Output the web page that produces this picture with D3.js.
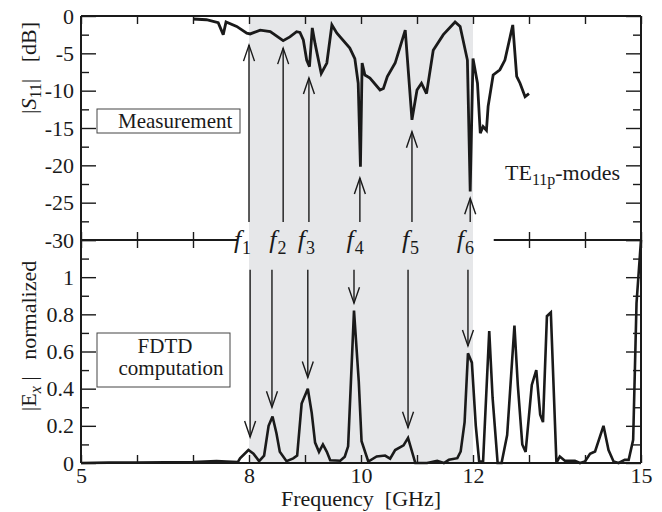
<!DOCTYPE html>
<html><head><meta charset="utf-8">
<script src="https://cdn.jsdelivr.net/npm/d3@7"></script>
</head><body style="margin:0;background:#fff">
<svg id="c" width="662" height="512" font-family="Liberation Serif"></svg>
<script>
// ---------- data ----------
const measFreq=[7.0,7.24,7.45,7.54,7.59,7.78,7.96,8.02,8.2,8.38,8.61,8.73,8.85,8.91,8.97,9.03,9.08,9.13,9.18,9.29,9.39,9.48,9.57,9.8,9.89,9.95,9.99,10.02,10.07,10.16,10.34,10.4,10.47,10.61,10.7,10.79,10.91,11.0,11.08,11.17,11.29,11.47,11.68,11.77,11.9,11.95,12.0,12.08,12.13,12.18,12.24,12.27,12.36,12.48,12.57,12.71,12.78,12.84,12.93,13.0];
const measDb=[-0.4,-0.5,-0.9,-2.5,-0.8,-1.4,-2.3,-2.4,-1.9,-2.1,-3.3,-2.8,-2.1,-2.2,-3.2,-5.9,-6.8,-1.6,-3.7,-7.7,-6.3,-1.2,-2.3,-4.3,-5.7,-9.0,-20.2,-6.3,-7.9,-8.3,-9.9,-9.7,-8.1,-6.3,-4.1,-1.9,-13.9,-9.9,-9.0,-10.4,-4.6,-2.5,-0.8,-1.4,-5.9,-23.5,-5.7,-9.0,-15.7,-14.8,-15.3,-12.1,-7.9,-7.2,-5.9,-1.2,-8.1,-9.0,-10.8,-10.4];

const fdtdFreq=[5.0,5.5,6.0,6.5,7.0,7.42,7.6,7.8,7.84,7.99,8.08,8.18,8.27,8.35,8.42,8.49,8.55,8.67,8.79,8.86,8.94,9.05,9.12,9.18,9.25,9.32,9.39,9.45,9.63,9.71,9.77,9.875,9.96,10.01,10.13,10.28,10.43,10.52,10.61,10.76,10.84,10.97,11.18,11.36,11.48,11.57,11.72,11.78,11.85,11.91,11.98,12.05,12.11,12.18,12.29,12.35,12.44,12.51,12.61,12.74,12.8,12.88,12.94,13.05,13.13,13.2,13.25,13.32,13.39,13.49,13.55,13.64,13.82,13.91,14.0,14.09,14.18,14.33,14.42,14.51,14.6,14.71,14.78,14.86,14.92,15.0];
const fdtdVal=[0.0,0.002,0.003,0.004,0.005,0.01,0.008,0.005,0.025,0.07,0.05,0.01,0.04,0.2,0.25,0.16,0.06,0.01,0.025,0.04,0.32,0.4,0.27,0.11,0.06,0.1,0.06,0.015,0.012,0.034,0.09,0.82,0.44,0.117,0.008,0.035,0.04,0.023,0.07,0.095,0.135,0.0,0.0,0.012,0.0,0.017,0.026,0.062,0.22,0.59,0.54,0.2,0.008,0.008,0.71,0.35,0.0,0.0,0.15,0.74,0.42,0.1,0.06,0.42,0.5,0.26,0.22,0.79,0.81,0.0,0.035,0.012,0.012,0.0,0.008,0.05,0.062,0.2,0.07,0.008,0.0,0.017,0.017,0.125,0.86,1.2];

const modeNames=["1","2","3","4","5","6"];
const arrowTopFreq=[8.0,8.61,9.07,9.98,10.91,11.95];
const arrowTopTip=[-3.9,-4.3,-8.3,-21.7,-15.5,-24.4];
const arrowTopStart=-27.6;
const arrowBotFreq=[8.02,8.41,9.05,9.875,10.84,11.91];
const arrowBotTip=[0.14,0.30,0.46,0.86,0.19,0.63];
const arrowBotStart=1.04;
const modeLabelFreq=[7.73,8.36,8.87,9.74,10.73,11.71];

const bandFreq=[8,12];
const labelBandFreq=[7.79,12.37];
const xTickValues=[5,6,7,8,9,10,11,12,13,14,15];
const xTickLabels=[5,8,10,12,15];
const s11Major=[0,-5,-10,-15,-20,-25,-30];
const s11Minor=[-2.5,-7.5,-12.5,-17.5,-22.5,-27.5];
const exMajor=[0,0.2,0.4,0.6,0.8,1.0,1.2];
const exMinor=[0.1,0.3,0.5,0.7,0.9,1.1];

// ---------- layout ----------
const SERIF="Liberation Serif";
const L=81,R=641,T=16,M=240,B=463;
const svg=d3.select("#c");
const x=d3.scaleLinear([5,15],[L,R]);
const yT=d3.scaleLinear([-30,0],[M,T]);
const yB=d3.scaleLinear([0,1.2],[B,M]);
const ink="#1a1a1a";

// shading
svg.append("rect").attr("x",x(bandFreq[0])).attr("y",T).attr("width",x(bandFreq[1])-x(bandFreq[0])).attr("height",B-T).attr("fill","#e6e7e9");

// curves
const lineT=d3.line().x(d=>x(d[0])).y(d=>yT(d[1]));
const lineB=d3.line().x(d=>x(d[0])).y(d=>yB(d[1]));
svg.append("path").attr("d",lineT(d3.zip(measFreq,measDb))).attr("fill","none").attr("stroke",ink).attr("stroke-width",2.8).attr("stroke-linejoin","miter").attr("stroke-miterlimit",3);
svg.append("path").attr("d",lineB(d3.zip(fdtdFreq,fdtdVal))).attr("fill","none").attr("stroke",ink).attr("stroke-width",2.6).attr("stroke-linejoin","miter").attr("stroke-miterlimit",3);

// axes helper
function axisG(axis,tx,ty){
  const g=svg.append("g").attr("transform",`translate(${tx},${ty})`).call(axis);
  g.attr("font-family",SERIF).attr("font-size",22);
  g.select(".domain").remove();
  g.selectAll(".tick line").attr("stroke",ink).attr("stroke-width",1.4);
  g.selectAll("text").attr("font-family",SERIF).attr("font-size",22).attr("fill",ink);
  return g;
}
const fmtS=d=>String(d);
// left top
axisG(d3.axisLeft(yT).tickValues(s11Major).tickSize(-15).tickPadding(7).tickFormat(fmtS),L,0);
axisG(d3.axisLeft(yT).tickValues(s11Minor).tickSize(-8).tickFormat(""),L,0);
// left bottom (no label at 1.2)
axisG(d3.axisLeft(yB).tickValues(exMajor).tickSize(-15).tickPadding(7).tickFormat(d=>d>=1.15?"":(d===0?"0":(d===1?"1":d3.format(".1f")(d)))),L,0);
axisG(d3.axisLeft(yB).tickValues(exMinor).tickSize(-8).tickFormat(""),L,0);
// right
axisG(d3.axisRight(yT).tickValues(s11Major).tickSize(-15).tickFormat(""),R,0);
axisG(d3.axisRight(yT).tickValues(s11Minor).tickSize(-8).tickFormat(""),R,0);
axisG(d3.axisRight(yB).tickValues(exMajor).tickSize(-15).tickFormat(""),R,0);
axisG(d3.axisRight(yB).tickValues(exMinor).tickSize(-8).tickFormat(""),R,0);
// top edge
axisG(d3.axisTop(x).tickValues(xTickValues).tickSize(-8).tickFormat(""),0,T);
// middle
const midTicks=xTickValues.filter(v=>v<labelBandFreq[0]||v>labelBandFreq[1]);
axisG(d3.axisBottom(x).tickValues(midTicks).tickSize(-8).tickFormat(""),0,M);
axisG(d3.axisTop(x).tickValues(midTicks).tickSize(-8).tickFormat(""),0,M);
// bottom
axisG(d3.axisBottom(x).tickValues(xTickValues).tickSize(-8).tickPadding(4).tickFormat(d=>xTickLabels.includes(d)?String(d):""),0,B);

// frame
const fr=svg.append("g").attr("stroke",ink).attr("stroke-width",2).attr("fill","none");
fr.append("line").attr("x1",L).attr("x2",R).attr("y1",T).attr("y2",T);
fr.append("line").attr("x1",L).attr("x2",R).attr("y1",B).attr("y2",B);
fr.append("line").attr("x1",L).attr("x2",L).attr("y1",T).attr("y2",B);
fr.append("line").attr("x1",R).attr("x2",R).attr("y1",T).attr("y2",B);
fr.append("line").attr("x1",L).attr("x2",x(labelBandFreq[0])).attr("y1",M).attr("y2",M);
fr.append("line").attr("x1",x(labelBandFreq[1])).attr("x2",R).attr("y1",M).attr("y2",M);

// arrows
const ag=svg.append("g").attr("stroke",ink).attr("stroke-width",1.4).attr("fill","none");
arrowTopFreq.forEach((f,i)=>{
  const ax=x(f), y0=yT(arrowTopStart), y1=yT(arrowTopTip[i]);
  ag.append("line").attr("x1",ax).attr("x2",ax).attr("y1",y0).attr("y2",y1);
  ag.append("path").attr("d",`M${ax-5.5},${y1+16}L${ax},${y1}L${ax+5.5},${y1+16}`);
});
arrowBotFreq.forEach((f,i)=>{
  const ax=x(f), y0=yB(arrowBotStart), y1=yB(arrowBotTip[i]);
  ag.append("line").attr("x1",ax).attr("x2",ax).attr("y1",y0).attr("y2",y1);
  ag.append("path").attr("d",`M${ax-5.5},${y1-16}L${ax},${y1}L${ax+5.5},${y1-16}`);
});

function txt(xp,yp,size){
  return svg.append("text").attr("x",xp).attr("y",yp).attr("font-size",size).attr("font-family",SERIF).attr("fill",ink);
}
// mode labels
modeNames.forEach((n,i)=>{
  const t=txt(x(modeLabelFreq[i]),248,26);
  t.append("tspan").attr("font-style","italic").text("f");
  t.append("tspan").attr("font-size",18).attr("dx",1).attr("dy",6).text(n);
});

// boxes
svg.append("rect").attr("x",97).attr("y",109).attr("width",143).attr("height",24).attr("fill","#fff").attr("stroke","#444").attr("stroke-width",1);
txt(118,128,21).text("Measurement");
svg.append("rect").attr("x",97).attr("y",333).attr("width",133).attr("height",54).attr("fill","#fff").attr("stroke","#444").attr("stroke-width",1);
txt(165,353,21).attr("text-anchor","middle").text("FDTD");
txt(171,375,21).attr("text-anchor","middle").text("computation");

// TE label
const te=txt(505,180,22);
te.append("tspan").text("TE");
te.append("tspan").attr("font-size",16).attr("dy",5).text("11p");
te.append("tspan").attr("dy",-5).text("-modes");

// axis titles
txt(361,506,22).attr("text-anchor","middle").text("Frequency\u00a0\u00a0[GHz]");
const s=svg.append("text").attr("transform","translate(36,68) rotate(-90)").attr("font-size",22).attr("text-anchor","middle").attr("font-family",SERIF).attr("fill",ink);
s.append("tspan").text("|");
s.append("tspan").attr("font-style","italic").text("S");
s.append("tspan").attr("font-size",16).attr("dy",5).text("11");
s.append("tspan").attr("dy",-5).text("|\u00a0\u00a0\u00a0[dB]");
const e=svg.append("text").attr("transform","translate(36,336) rotate(-90)").attr("font-size",22).attr("text-anchor","middle").attr("font-family",SERIF).attr("fill",ink);
e.append("tspan").text("|E");
e.append("tspan").attr("font-size",16).attr("font-style","italic").attr("dy",5).text("x");
e.append("tspan").attr("dy",-5).text("\u00a0|\u00a0\u00a0\u00a0normalized");
</script>
</body></html>
